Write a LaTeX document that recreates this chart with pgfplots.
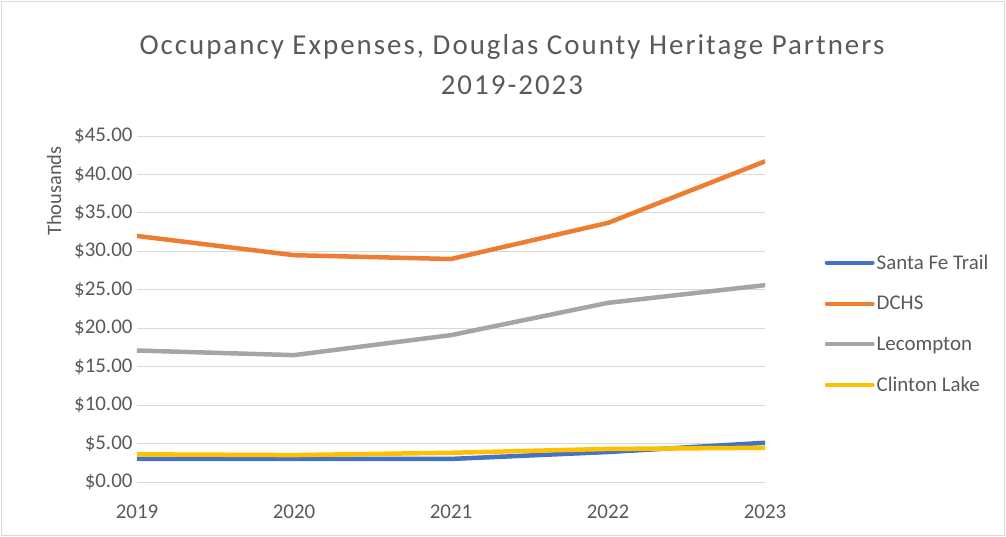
\documentclass[border=0pt]{standalone}
\usepackage{pgfplots}
\pgfplotsset{compat=1.18}
\usepackage{fontspec}
\setmainfont{Carlito}
\newfontfamily\titlefont[LetterSpace=7]{Carlito}
\definecolor{txt}{HTML}{595959}
\definecolor{gridc}{HTML}{D9D9D9}
\definecolor{sfblue}{HTML}{4472C4}
\definecolor{dorange}{HTML}{ED7D31}
\definecolor{lgray}{HTML}{A5A5A5}
\definecolor{cgold}{HTML}{FFC000}
\begin{document}
\begin{tikzpicture}
% outer frame of the chart area
\draw[gridc, line width=1bp] (-135bp,-53bp) rectangle (867bp,480bp);
\useasboundingbox (-137bp,-55bp) rectangle (869bp,482bp);
\begin{axis}[
    at={(0,0)}, anchor=south west,
    scale only axis,
    width=628bp, height=346bp,
    xmin=2019, xmax=2023,
    ymin=0, ymax=45,
    xtick={2019,2020,2021,2022,2023},
    ytick={0,5,10,15,20,25,30,35,40,45},
    xticklabel style={/pgf/number format/1000 sep={}},
    yticklabel={\$\pgfmathprintnumber[fixed,fixed zerofill,precision=2]{\tick}},
    /pgf/number format/assume math mode=true,
    tick label style={font=\fontsize{21}{24}\selectfont, text=txt},
    major tick length=0pt,
    ymajorgrids,
    grid style={gridc, line width=1bp},
    axis x line*=bottom,
    x axis line style={gridc, line width=1bp, -},
    y axis line style={draw=none},
    xticklabel style={yshift=-19bp},
    yticklabel style={xshift=-1bp},
    ylabel={Thousands},
    every axis y label/.style={at={(axis description cs:-0.132,0.841)}, anchor=center, rotate=90,
        font=\fontsize{20.5}{24}\selectfont, text=txt},
    title={\titlefont Occupancy Expenses, Douglas County Heritage Partners\\\titlefont 2019-2023},
    title style={font=\fontsize{29}{40}\selectfont, text=txt, align=center, at={(0.597,1)}, anchor=south, yshift=32bp},
    legend style={at={(1.09,0.457)}, anchor=west, draw=none, fill=none,
        font=\fontsize{21}{24}\selectfont, text=txt, row sep=21.5bp,
        /tikz/every even column/.append style={column sep=0bp}},
    legend cell align=left,
    legend image code/.code={\draw[#1, line width=4bp] (0bp,0bp) -- (46bp,0bp);},
    every axis plot/.append style={line width=4.5bp, line cap=round, line join=round},
]
\addplot[sfblue] coordinates {(2019,3.0) (2020,3.0) (2021,3.0) (2022,3.9) (2023,5.1)};
\addlegendentry{Santa Fe Trail}
\addplot[dorange] coordinates {(2019,32.0) (2020,29.5) (2021,29.0) (2022,33.7) (2023,41.7)};
\addlegendentry{DCHS}
\addplot[lgray] coordinates {(2019,17.1) (2020,16.5) (2021,19.1) (2022,23.3) (2023,25.6)};
\addlegendentry{Lecompton}
\addplot[cgold] coordinates {(2019,3.6) (2020,3.5) (2021,3.8) (2022,4.3) (2023,4.45)};
\addlegendentry{Clinton Lake}
\end{axis}
\end{tikzpicture}
\end{document}
